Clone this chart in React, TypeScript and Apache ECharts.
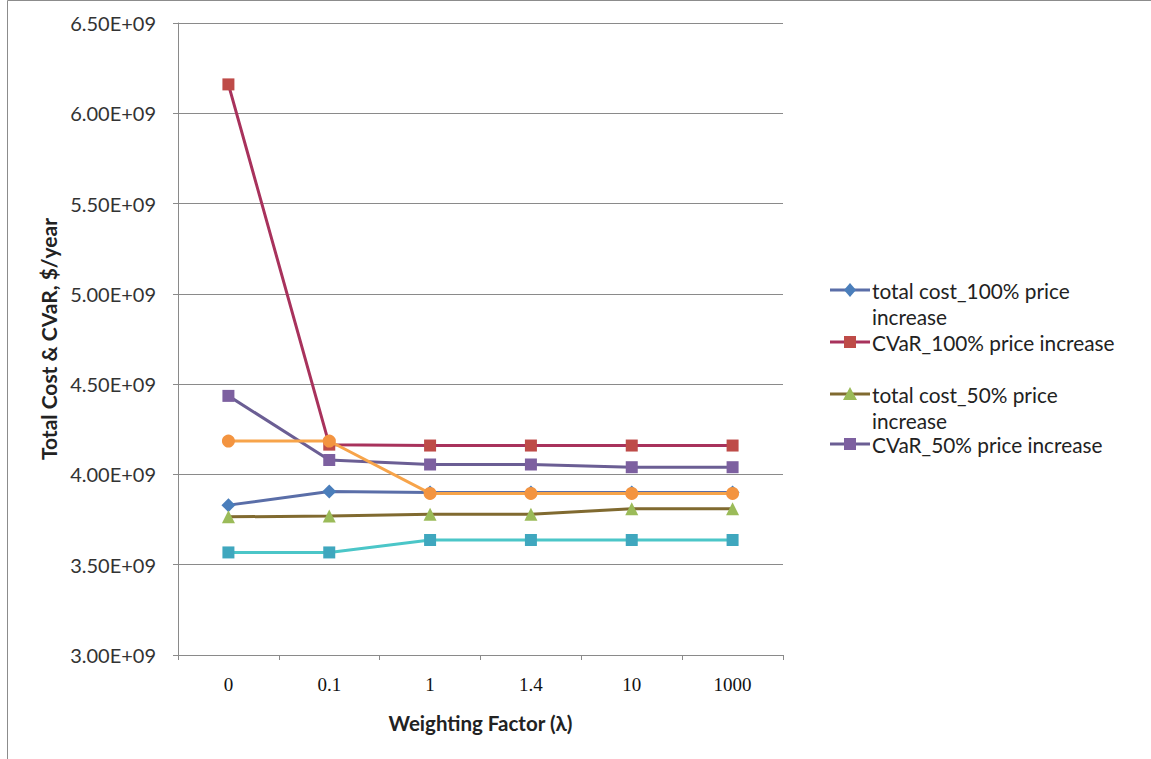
import React, { useEffect, useRef } from "react";
import * as echarts from "echarts";

// Weighting factor λ categories
const categories = ["0", "0.1", "1", "1.4", "10", "1000"];

// Total cost and CVaR, $/year
const totalCost100 = [3.83e9, 3.905e9, 3.9e9, 3.9e9, 3.9e9, 3.9e9];
const cvar100 = [6.16e9, 4.165e9, 4.16e9, 4.16e9, 4.16e9, 4.16e9];
const totalCost50 = [3.765e9, 3.77e9, 3.78e9, 3.78e9, 3.81e9, 3.81e9];
const cvar50 = [4.435e9, 4.08e9, 4.055e9, 4.055e9, 4.04e9, 4.04e9];
const seriesE = [3.568e9, 3.568e9, 3.637e9, 3.637e9, 3.637e9, 3.637e9];
const seriesF = [4.185e9, 4.185e9, 3.895e9, 3.895e9, 3.895e9, 3.895e9];

const yTicks = { min: 3.0e9, max: 6.5e9, interval: 0.5e9 };

const legendNames = [
  "total cost_100% price increase",
  "CVaR_100% price increase",
  "total cost_50% price increase",
  "CVaR_50% price increase",
];

const FONT = "Lato, 'Open Sans', sans-serif";
const GRID_COLOR = "#8a8a8a";

type Style = { line: string; marker: string; symbol: string; size: number };
const styles: Style[] = [
  { line: "#5a6ea8", marker: "#4a7ebb", symbol: "diamond", size: 14 },
  { line: "#a8325c", marker: "#be4b48", symbol: "rect", size: 12 },
  { line: "#806a30", marker: "#9bbb59", symbol: "triangle", size: 13 },
  { line: "#6b5e94", marker: "#7d60a0", symbol: "rect", size: 12 },
  { line: "#4bc6c8", marker: "#3fa7be", symbol: "rect", size: 12 },
  { line: "#f7a44a", marker: "#f39440", symbol: "circle", size: 13 },
];

const seriesData = [totalCost100, cvar100, totalCost50, cvar50, seriesE, seriesF];
const seriesNames = [...legendNames, "series 5", "series 6"];

function legendGraphics() {
  const x0 = 830;
  const x1 = 870;
  const mx = 850;
  const tx = 872;
  const entries = [
    { idx: 0, y: 290, lines: ["total cost_100% price", "increase"] },
    { idx: 1, y: 342, lines: ["CVaR_100% price increase"] },
    { idx: 2, y: 394, lines: ["total cost_50% price", "increase"] },
    { idx: 3, y: 444, lines: ["CVaR_50% price increase"] },
  ];
  const els: any[] = [];
  entries.forEach((e) => {
    const st = styles[e.idx];
    els.push({
      type: "line",
      shape: { x1: x0, y1: e.y, x2: x1, y2: e.y },
      style: { stroke: st.line, lineWidth: 3 },
    });
    if (st.symbol === "diamond") {
      els.push({
        type: "polygon",
        shape: { points: [[mx, e.y - 7], [mx + 6, e.y], [mx, e.y + 7], [mx - 6, e.y]] },
        style: { fill: st.marker },
      });
    } else if (st.symbol === "triangle") {
      els.push({
        type: "polygon",
        shape: { points: [[mx, e.y - 7], [mx + 7, e.y + 6], [mx - 7, e.y + 6]] },
        style: { fill: st.marker },
      });
    } else {
      els.push({
        type: "rect",
        shape: { x: mx - 6, y: e.y - 6, width: 12, height: 12 },
        style: { fill: st.marker },
      });
    }
    e.lines.forEach((t, i) => {
      els.push({
        type: "text",
        x: tx,
        y: e.y + i * 26,
        style: {
          text: t,
          font: `20.8px ${FONT}`,
          fill: "#222",
          textVerticalAlign: "middle",
          textAlign: "left",
        },
      });
    });
  });
  return els;
}

export default function App() {
  const ref = useRef<HTMLDivElement>(null);

  useEffect(() => {
    document.body.style.margin = "0";
    if (!ref.current) return;
    const chart = echarts.init(ref.current, undefined, { renderer: "svg" });
    chart.setOption({
      animation: false,
      backgroundColor: "#ffffff",
      grid: { left: 178, top: 23, width: 605, height: 632, containLabel: false },
      xAxis: {
        type: "category",
        data: categories,
        boundaryGap: true,
        axisLine: { lineStyle: { color: GRID_COLOR, width: 1 } },
        axisTick: { show: true, length: 5, alignWithLabel: false, lineStyle: { color: GRID_COLOR } },
        axisLabel: {
          margin: 20,
          fontFamily: "'Liberation Serif', serif",
          fontSize: 19,
          color: "#111",
        },
        name: "Weighting Factor (λ)",
        nameLocation: "middle",
        nameGap: 57,
        nameTextStyle: { fontFamily: FONT, fontWeight: "bold", fontSize: 20.5, color: "#222" },
      },
      yAxis: {
        type: "value",
        min: yTicks.min,
        max: yTicks.max,
        interval: yTicks.interval,
        axisLine: { show: true, lineStyle: { color: GRID_COLOR, width: 1 } },
        axisTick: { show: true, length: 5, lineStyle: { color: GRID_COLOR } },
        splitLine: { lineStyle: { color: GRID_COLOR, width: 1 } },
        axisLabel: {
          margin: 22,
          fontFamily: FONT,
          fontSize: 20,
          color: "#333",
          formatter: (v: number) => (v / 1e9).toFixed(2) + "E+09",
        },
        name: "Total Cost & CVaR, $/year",
        nameLocation: "middle",
        nameRotate: 90,
        nameGap: 118,
        nameTextStyle: { fontFamily: FONT, fontWeight: "bold", fontSize: 21, color: "#222" },
      },
      legend: { show: false },
      series: seriesData.map((d, i) => ({
        name: seriesNames[i],
        type: "line",
        data: d,
        symbol: styles[i].symbol,
        symbolSize: styles[i].size,
        showSymbol: true,
        lineStyle: { color: styles[i].line, width: 3 },
        itemStyle: { color: styles[i].marker, borderColor: styles[i].marker, borderWidth: 0 },
        z: 2 + i,
      })),
      graphic: [
        {
          type: "rect",
          shape: { x: 7.5, y: 0.5, width: 1200, height: 800 },
          style: { fill: "none", stroke: "#8c8c8c", lineWidth: 1 },
          silent: true,
        },
        ...legendGraphics(),
      ],
    });
    return () => chart.dispose();
  }, []);

  return <div ref={ref} style={{ width: 1151, height: 759 }} />;
}
